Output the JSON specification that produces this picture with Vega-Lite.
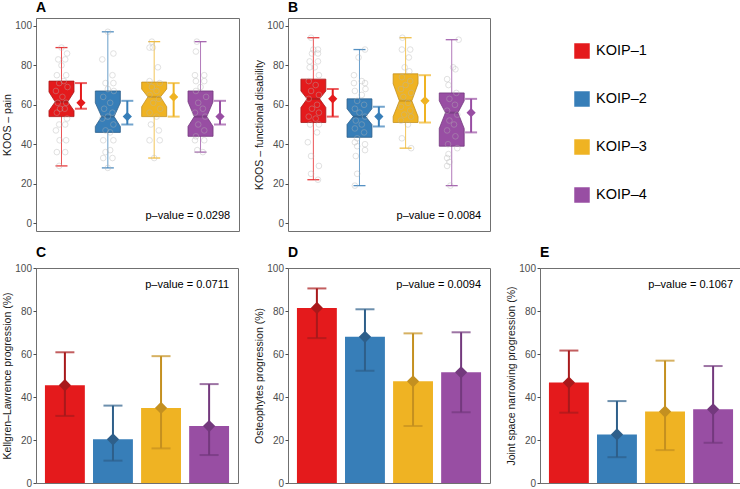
{
"$schema": "https://vega.github.io/schema/vega-lite/v6.json",
"background": "white",
"padding": {"left": 2, "top": 0, "right": 0, "bottom": 0},
"config": {
  "font": "Liberation Sans",
  "view": {"stroke": "#707070", "strokeWidth": 1},
  "title": {"anchor": "start", "frame": "group", "fontSize": 14, "fontWeight": "bold", "font": "Liberation Sans", "offset": 3, "color": "#000"},
  "axis": {"labelFont": "Liberation Sans", "labelFontSize": 10, "labelColor": "#4d4d4d", "titleFont": "Liberation Sans", "titleFontSize": 10.5, "titleFontWeight": "normal", "titleColor": "#1a1a1a", "tickColor": "#4d4d4d", "tickSize": 3, "domain": false, "grid": false, "labelPadding": 1.5, "titlePadding": 2}
},
"datasets": {
  "boxA": [
    {"g": 1, "grp": "KOIP–1", "q1": 54, "nlo": 57, "med": 61.5, "nhi": 66.5, "q3": 72, "lo": 29, "hi": 89, "mean": 61, "elo": 58, "ehi": 71},
    {"g": 2, "grp": "KOIP–2", "q1": 46, "nlo": 49, "med": 54, "nhi": 61, "q3": 67, "lo": 28, "hi": 97, "mean": 54, "elo": 50, "ehi": 62},
    {"g": 3, "grp": "KOIP–3", "q1": 54, "nlo": 59, "med": 64, "nhi": 68, "q3": 71.5, "lo": 33, "hi": 92, "mean": 64, "elo": 54, "ehi": 71},
    {"g": 4, "grp": "KOIP–4", "q1": 44, "nlo": 49, "med": 54, "nhi": 61.5, "q3": 67, "lo": 36, "hi": 92, "mean": 54, "elo": 50, "ehi": 62}
  ],
  "boxB": [
    {"g": 1, "grp": "KOIP–1", "q1": 51, "nlo": 58.6, "med": 63, "nhi": 67, "q3": 73, "lo": 22, "hi": 94, "mean": 63, "elo": 54, "ehi": 68},
    {"g": 2, "grp": "KOIP–2", "q1": 43.5, "nlo": 50, "med": 54, "nhi": 58, "q3": 63, "lo": 19, "hi": 88, "mean": 54, "elo": 49, "ehi": 59},
    {"g": 3, "grp": "KOIP–3", "q1": 51, "nlo": 54, "med": 62, "nhi": 70.7, "q3": 75.7, "lo": 38, "hi": 94, "mean": 62, "elo": 51, "ehi": 75},
    {"g": 4, "grp": "KOIP–4", "q1": 39, "nlo": 48, "med": 56, "nhi": 62, "q3": 66, "lo": 19, "hi": 93, "mean": 56, "elo": 46, "ehi": 63}
  ],
  "ptsA": [
    {"x": 1.0, "v": 89}, {"x": 1.12, "v": 86}, {"x": 0.93, "v": 83}, {"x": 1.08, "v": 83}, {"x": 1.0, "v": 80}, {"x": 0.9, "v": 75}, {"x": 1.1, "v": 75}, {"x": 1.05, "v": 72}, {"x": 0.95, "v": 71}, {"x": 1.13, "v": 69}, {"x": 0.88, "v": 67}, {"x": 1.02, "v": 64}, {"x": 0.92, "v": 61}, {"x": 1.1, "v": 61}, {"x": 0.97, "v": 58}, {"x": 1.07, "v": 58}, {"x": 0.9, "v": 56}, {"x": 1.12, "v": 53}, {"x": 0.95, "v": 50}, {"x": 1.08, "v": 50}, {"x": 0.88, "v": 47}, {"x": 1.1, "v": 42}, {"x": 0.96, "v": 42}, {"x": 0.9, "v": 36}, {"x": 1.08, "v": 36}, {"x": 0.95, "v": 29},
    {"x": 2.0, "v": 97}, {"x": 2.12, "v": 86}, {"x": 1.88, "v": 83}, {"x": 2.1, "v": 75}, {"x": 2.12, "v": 71}, {"x": 1.95, "v": 71}, {"x": 2.0, "v": 68}, {"x": 2.13, "v": 67}, {"x": 1.9, "v": 64}, {"x": 2.05, "v": 61}, {"x": 1.92, "v": 58}, {"x": 2.1, "v": 56}, {"x": 2.0, "v": 54}, {"x": 1.88, "v": 53}, {"x": 2.12, "v": 50}, {"x": 1.95, "v": 47}, {"x": 2.05, "v": 46}, {"x": 1.9, "v": 42}, {"x": 2.12, "v": 42}, {"x": 2.05, "v": 37}, {"x": 1.95, "v": 36}, {"x": 2.1, "v": 33}, {"x": 1.9, "v": 33}, {"x": 2.0, "v": 28},
    {"x": 2.95, "v": 92}, {"x": 2.9, "v": 89}, {"x": 2.97, "v": 89}, {"x": 3.08, "v": 79}, {"x": 2.9, "v": 72}, {"x": 3.12, "v": 71}, {"x": 2.95, "v": 69}, {"x": 3.05, "v": 67}, {"x": 2.9, "v": 65}, {"x": 3.1, "v": 63}, {"x": 2.98, "v": 61}, {"x": 3.13, "v": 58}, {"x": 2.9, "v": 56}, {"x": 3.05, "v": 54}, {"x": 2.93, "v": 50}, {"x": 3.1, "v": 47}, {"x": 2.9, "v": 42}, {"x": 3.12, "v": 42}, {"x": 3.0, "v": 33},
    {"x": 3.92, "v": 92}, {"x": 3.9, "v": 87}, {"x": 3.88, "v": 75}, {"x": 4.08, "v": 75}, {"x": 3.9, "v": 72}, {"x": 4.08, "v": 72}, {"x": 4.0, "v": 69}, {"x": 3.9, "v": 67}, {"x": 4.12, "v": 64}, {"x": 3.95, "v": 61}, {"x": 4.05, "v": 58}, {"x": 3.88, "v": 56}, {"x": 4.1, "v": 54}, {"x": 3.95, "v": 50}, {"x": 4.08, "v": 47}, {"x": 3.9, "v": 44}, {"x": 3.88, "v": 42}, {"x": 4.08, "v": 42}, {"x": 3.93, "v": 37}, {"x": 4.05, "v": 36}
  ],
  "ptsB": [
    {"x": 0.95, "v": 94}, {"x": 1.0, "v": 88}, {"x": 1.1, "v": 88}, {"x": 0.97, "v": 86}, {"x": 1.1, "v": 86}, {"x": 0.92, "v": 82}, {"x": 1.1, "v": 82}, {"x": 0.92, "v": 79}, {"x": 1.03, "v": 79}, {"x": 1.12, "v": 75}, {"x": 0.9, "v": 72}, {"x": 1.05, "v": 70}, {"x": 0.95, "v": 67}, {"x": 1.12, "v": 65}, {"x": 0.9, "v": 63}, {"x": 1.08, "v": 60}, {"x": 0.97, "v": 58}, {"x": 1.12, "v": 56}, {"x": 0.9, "v": 54}, {"x": 1.05, "v": 53}, {"x": 0.93, "v": 50}, {"x": 1.12, "v": 50}, {"x": 1.08, "v": 46}, {"x": 0.88, "v": 41}, {"x": 0.95, "v": 34}, {"x": 1.12, "v": 29}, {"x": 0.95, "v": 25}, {"x": 1.1, "v": 22},
    {"x": 2.12, "v": 88}, {"x": 1.98, "v": 84}, {"x": 1.88, "v": 75}, {"x": 2.05, "v": 72}, {"x": 1.88, "v": 71}, {"x": 2.12, "v": 71}, {"x": 2.13, "v": 68}, {"x": 1.9, "v": 67}, {"x": 2.05, "v": 65}, {"x": 1.95, "v": 62}, {"x": 2.1, "v": 60}, {"x": 1.9, "v": 58}, {"x": 2.0, "v": 56}, {"x": 2.12, "v": 54}, {"x": 1.92, "v": 52}, {"x": 2.05, "v": 50}, {"x": 1.9, "v": 48}, {"x": 2.1, "v": 46}, {"x": 1.95, "v": 43}, {"x": 1.9, "v": 41}, {"x": 2.12, "v": 40}, {"x": 1.95, "v": 39}, {"x": 2.12, "v": 37}, {"x": 1.92, "v": 34}, {"x": 1.95, "v": 25}, {"x": 1.9, "v": 19},
    {"x": 2.93, "v": 94}, {"x": 2.92, "v": 88}, {"x": 3.1, "v": 88}, {"x": 3.07, "v": 84}, {"x": 2.98, "v": 79}, {"x": 3.08, "v": 77}, {"x": 2.92, "v": 74}, {"x": 3.1, "v": 72}, {"x": 3.0, "v": 70}, {"x": 2.9, "v": 68}, {"x": 3.12, "v": 66}, {"x": 2.95, "v": 64}, {"x": 3.05, "v": 61}, {"x": 2.9, "v": 59}, {"x": 3.1, "v": 57}, {"x": 2.97, "v": 55}, {"x": 3.12, "v": 54}, {"x": 2.9, "v": 52}, {"x": 3.05, "v": 50}, {"x": 2.92, "v": 43}, {"x": 3.12, "v": 38},
    {"x": 4.15, "v": 93}, {"x": 4.03, "v": 79}, {"x": 4.08, "v": 78}, {"x": 3.9, "v": 73}, {"x": 3.93, "v": 70}, {"x": 4.1, "v": 66}, {"x": 3.95, "v": 63}, {"x": 4.07, "v": 60}, {"x": 3.9, "v": 57}, {"x": 4.12, "v": 55}, {"x": 3.95, "v": 52}, {"x": 4.05, "v": 50}, {"x": 3.9, "v": 47}, {"x": 4.08, "v": 44}, {"x": 3.92, "v": 40}, {"x": 4.12, "v": 38}, {"x": 3.93, "v": 35}, {"x": 3.9, "v": 33}, {"x": 3.95, "v": 31}, {"x": 3.9, "v": 29}, {"x": 3.97, "v": 19}
  ],
  "bars": [
    {"panel": "C", "grp": "KOIP–1", "pct": 45.5, "lo": 31.2, "hi": 60.8},
    {"panel": "C", "grp": "KOIP–2", "pct": 20.3, "lo": 10.4, "hi": 36},
    {"panel": "C", "grp": "KOIP–3", "pct": 34.9, "lo": 16.1, "hi": 59},
    {"panel": "C", "grp": "KOIP–4", "pct": 26.5, "lo": 13, "hi": 46},
    {"panel": "D", "grp": "KOIP–1", "pct": 81.4, "lo": 67.4, "hi": 90.5},
    {"panel": "D", "grp": "KOIP–2", "pct": 68, "lo": 52.2, "hi": 80.8},
    {"panel": "D", "grp": "KOIP–3", "pct": 47.3, "lo": 26.5, "hi": 69.6},
    {"panel": "D", "grp": "KOIP–4", "pct": 51.5, "lo": 32.9, "hi": 70.1},
    {"panel": "E", "grp": "KOIP–1", "pct": 46.7, "lo": 32.7, "hi": 61.6},
    {"panel": "E", "grp": "KOIP–2", "pct": 22.6, "lo": 12, "hi": 38.1},
    {"panel": "E", "grp": "KOIP–3", "pct": 33.2, "lo": 15.3, "hi": 56.9},
    {"panel": "E", "grp": "KOIP–4", "pct": 34.3, "lo": 18.7, "hi": 54.4}
  ],
  "legend": [
    {"g": 1, "grp": "KOIP–1"}, {"g": 2, "grp": "KOIP–2"}, {"g": 3, "grp": "KOIP–3"}, {"g": 4, "grp": "KOIP–4"}
  ]
},
"spacing": 13,
"vconcat": [
  {"spacing": 14, "hconcat": [
    {"width": 203, "height": 213, "title": {"text": "A"},
     "resolve": {"scale": {"color": "independent", "fill": "independent", "stroke": "independent"}},
     "layer": [
      {"data": {"name": "boxA"}, "mark": {"type": "rule", "strokeWidth": 1, "opacity": 0.75},
       "encoding": {"x": {"field": "g", "type": "quantitative", "scale": {"domain": [0.45, 4.83], "nice": false, "zero": false}, "axis": null},
         "y": {"field": "lo", "type": "quantitative", "scale": {"domain": [-4, 104], "nice": false, "zero": false}, "axis": {"title": "KOOS – pain", "values": [0, 20, 40, 60, 80, 100]}},
         "y2": {"field": "hi"},
         "color": {"field": "grp", "type": "nominal", "scale": {"domain": ["KOIP–1", "KOIP–2", "KOIP–3", "KOIP–4"], "range": ["#E41A1C", "#377EB8", "#EFB323", "#984EA3"]}, "legend": null}}},
      {"data": {"name": "boxA"}, "mark": {"type": "tick", "orient": "horizontal", "size": 12, "thickness": 1.3, "opacity": 0.85},
       "encoding": {"x": {"field": "g", "type": "quantitative"}, "y": {"field": "lo", "type": "quantitative"},
         "color": {"field": "grp", "type": "nominal", "scale": {"domain": ["KOIP–1", "KOIP–2", "KOIP–3", "KOIP–4"], "range": ["#E41A1C", "#377EB8", "#EFB323", "#984EA3"]}, "legend": null}}},
      {"data": {"name": "boxA"}, "mark": {"type": "tick", "orient": "horizontal", "size": 12, "thickness": 1.3, "opacity": 0.85},
       "encoding": {"x": {"field": "g", "type": "quantitative"}, "y": {"field": "hi", "type": "quantitative"},
         "color": {"field": "grp", "type": "nominal", "scale": {"domain": ["KOIP–1", "KOIP–2", "KOIP–3", "KOIP–4"], "range": ["#E41A1C", "#377EB8", "#EFB323", "#984EA3"]}, "legend": null}}},
      {"data": {"name": "boxA"},
       "transform": [{"fold": ["q1", "nlo", "med", "nhi", "q3"], "as": ["stat", "yv"]},
         {"calculate": "datum.stat === 'med' ? 0.135 : 0.27", "as": "hw"},
         {"calculate": "datum.g - datum.hw", "as": "xl"}, {"calculate": "datum.g + datum.hw", "as": "xr"}],
       "mark": {"type": "area", "orient": "horizontal", "strokeWidth": 0.8, "fillOpacity": 1},
       "encoding": {"y": {"field": "yv", "type": "quantitative"}, "x": {"field": "xl", "type": "quantitative"}, "x2": {"field": "xr"},
         "fill": {"field": "grp", "type": "nominal", "scale": {"domain": ["KOIP–1", "KOIP–2", "KOIP–3", "KOIP–4"], "range": ["#E41A1C", "#377EB8", "#EFB323", "#984EA3"]}, "legend": null},
         "stroke": {"field": "grp", "type": "nominal", "scale": {"domain": ["KOIP–1", "KOIP–2", "KOIP–3", "KOIP–4"], "range": ["#A8191B", "#2E5F8A", "#C49020", "#73397D"]}, "legend": null}}},
      {"data": {"name": "boxA"}, "mark": {"type": "tick", "orient": "horizontal", "size": 12.5, "thickness": 2},
       "encoding": {"x": {"field": "g", "type": "quantitative"}, "y": {"field": "med", "type": "quantitative"},
         "color": {"field": "grp", "type": "nominal", "scale": {"domain": ["KOIP–1", "KOIP–2", "KOIP–3", "KOIP–4"], "range": ["#A8191B", "#2E5F8A", "#C49020", "#73397D"]}, "legend": null}}},
      {"data": {"name": "ptsA"}, "mark": {"type": "point", "shape": "circle", "filled": false, "size": 32, "strokeWidth": 0.8, "color": "#b5b5b5", "opacity": 0.5},
       "encoding": {"x": {"field": "x", "type": "quantitative"}, "y": {"field": "v", "type": "quantitative"}}},
      {"data": {"name": "boxA"}, "transform": [{"calculate": "datum.g + 0.42", "as": "xm"}],
       "mark": {"type": "rule", "strokeWidth": 2},
       "encoding": {"x": {"field": "xm", "type": "quantitative"}, "y": {"field": "elo", "type": "quantitative"}, "y2": {"field": "ehi"},
         "color": {"field": "grp", "type": "nominal", "scale": {"domain": ["KOIP–1", "KOIP–2", "KOIP–3", "KOIP–4"], "range": ["#E41A1C", "#377EB8", "#EFB323", "#984EA3"]}, "legend": null}}},
      {"data": {"name": "boxA"}, "transform": [{"calculate": "datum.g + 0.42", "as": "xm"}],
       "mark": {"type": "tick", "orient": "horizontal", "size": 12, "thickness": 2},
       "encoding": {"x": {"field": "xm", "type": "quantitative"}, "y": {"field": "elo", "type": "quantitative"},
         "color": {"field": "grp", "type": "nominal", "scale": {"domain": ["KOIP–1", "KOIP–2", "KOIP–3", "KOIP–4"], "range": ["#E41A1C", "#377EB8", "#EFB323", "#984EA3"]}, "legend": null}}},
      {"data": {"name": "boxA"}, "transform": [{"calculate": "datum.g + 0.42", "as": "xm"}],
       "mark": {"type": "tick", "orient": "horizontal", "size": 12, "thickness": 2},
       "encoding": {"x": {"field": "xm", "type": "quantitative"}, "y": {"field": "ehi", "type": "quantitative"},
         "color": {"field": "grp", "type": "nominal", "scale": {"domain": ["KOIP–1", "KOIP–2", "KOIP–3", "KOIP–4"], "range": ["#E41A1C", "#377EB8", "#EFB323", "#984EA3"]}, "legend": null}}},
      {"data": {"name": "boxA"}, "transform": [{"calculate": "datum.g + 0.42", "as": "xm"}],
       "mark": {"type": "point", "shape": "diamond", "filled": true, "size": 85, "opacity": 1},
       "encoding": {"x": {"field": "xm", "type": "quantitative"}, "y": {"field": "mean", "type": "quantitative"},
         "color": {"field": "grp", "type": "nominal", "scale": {"domain": ["KOIP–1", "KOIP–2", "KOIP–3", "KOIP–4"], "range": ["#E41A1C", "#377EB8", "#EFB323", "#984EA3"]}, "legend": null}}},
      {"data": {"values": [{"label": "p–value = 0.0298"}]}, "mark": {"type": "text", "align": "right", "baseline": "middle", "fontSize": 11, "color": "#000"},
       "encoding": {"x": {"datum": 4.64, "type": "quantitative"}, "y": {"datum": 3.5, "type": "quantitative"}, "text": {"field": "label"}}}
     ]},
    {"width": 202, "height": 213, "title": {"text": "B"},
     "resolve": {"scale": {"color": "independent", "fill": "independent", "stroke": "independent"}},
     "layer": [
      {"data": {"name": "boxB"}, "mark": {"type": "rule", "strokeWidth": 1, "opacity": 0.75},
       "encoding": {"x": {"field": "g", "type": "quantitative", "scale": {"domain": [0.45, 4.83], "nice": false, "zero": false}, "axis": null},
         "y": {"field": "lo", "type": "quantitative", "scale": {"domain": [-4, 104], "nice": false, "zero": false}, "axis": {"title": "KOOS – functional disability", "values": [0, 20, 40, 60, 80, 100]}},
         "y2": {"field": "hi"},
         "color": {"field": "grp", "type": "nominal", "scale": {"domain": ["KOIP–1", "KOIP–2", "KOIP–3", "KOIP–4"], "range": ["#E41A1C", "#377EB8", "#EFB323", "#984EA3"]}, "legend": null}}},
      {"data": {"name": "boxB"}, "mark": {"type": "tick", "orient": "horizontal", "size": 12, "thickness": 1.3, "opacity": 0.85},
       "encoding": {"x": {"field": "g", "type": "quantitative"}, "y": {"field": "lo", "type": "quantitative"},
         "color": {"field": "grp", "type": "nominal", "scale": {"domain": ["KOIP–1", "KOIP–2", "KOIP–3", "KOIP–4"], "range": ["#E41A1C", "#377EB8", "#EFB323", "#984EA3"]}, "legend": null}}},
      {"data": {"name": "boxB"}, "mark": {"type": "tick", "orient": "horizontal", "size": 12, "thickness": 1.3, "opacity": 0.85},
       "encoding": {"x": {"field": "g", "type": "quantitative"}, "y": {"field": "hi", "type": "quantitative"},
         "color": {"field": "grp", "type": "nominal", "scale": {"domain": ["KOIP–1", "KOIP–2", "KOIP–3", "KOIP–4"], "range": ["#E41A1C", "#377EB8", "#EFB323", "#984EA3"]}, "legend": null}}},
      {"data": {"name": "boxB"},
       "transform": [{"fold": ["q1", "nlo", "med", "nhi", "q3"], "as": ["stat", "yv"]},
         {"calculate": "datum.stat === 'med' ? 0.135 : 0.27", "as": "hw"},
         {"calculate": "datum.g - datum.hw", "as": "xl"}, {"calculate": "datum.g + datum.hw", "as": "xr"}],
       "mark": {"type": "area", "orient": "horizontal", "strokeWidth": 0.8, "fillOpacity": 1},
       "encoding": {"y": {"field": "yv", "type": "quantitative"}, "x": {"field": "xl", "type": "quantitative"}, "x2": {"field": "xr"},
         "fill": {"field": "grp", "type": "nominal", "scale": {"domain": ["KOIP–1", "KOIP–2", "KOIP–3", "KOIP–4"], "range": ["#E41A1C", "#377EB8", "#EFB323", "#984EA3"]}, "legend": null},
         "stroke": {"field": "grp", "type": "nominal", "scale": {"domain": ["KOIP–1", "KOIP–2", "KOIP–3", "KOIP–4"], "range": ["#A8191B", "#2E5F8A", "#C49020", "#73397D"]}, "legend": null}}},
      {"data": {"name": "boxB"}, "mark": {"type": "tick", "orient": "horizontal", "size": 12.5, "thickness": 2},
       "encoding": {"x": {"field": "g", "type": "quantitative"}, "y": {"field": "med", "type": "quantitative"},
         "color": {"field": "grp", "type": "nominal", "scale": {"domain": ["KOIP–1", "KOIP–2", "KOIP–3", "KOIP–4"], "range": ["#A8191B", "#2E5F8A", "#C49020", "#73397D"]}, "legend": null}}},
      {"data": {"name": "ptsB"}, "mark": {"type": "point", "shape": "circle", "filled": false, "size": 32, "strokeWidth": 0.8, "color": "#b5b5b5", "opacity": 0.5},
       "encoding": {"x": {"field": "x", "type": "quantitative"}, "y": {"field": "v", "type": "quantitative"}}},
      {"data": {"name": "boxB"}, "transform": [{"calculate": "datum.g + 0.42", "as": "xm"}],
       "mark": {"type": "rule", "strokeWidth": 2},
       "encoding": {"x": {"field": "xm", "type": "quantitative"}, "y": {"field": "elo", "type": "quantitative"}, "y2": {"field": "ehi"},
         "color": {"field": "grp", "type": "nominal", "scale": {"domain": ["KOIP–1", "KOIP–2", "KOIP–3", "KOIP–4"], "range": ["#E41A1C", "#377EB8", "#EFB323", "#984EA3"]}, "legend": null}}},
      {"data": {"name": "boxB"}, "transform": [{"calculate": "datum.g + 0.42", "as": "xm"}],
       "mark": {"type": "tick", "orient": "horizontal", "size": 12, "thickness": 2},
       "encoding": {"x": {"field": "xm", "type": "quantitative"}, "y": {"field": "elo", "type": "quantitative"},
         "color": {"field": "grp", "type": "nominal", "scale": {"domain": ["KOIP–1", "KOIP–2", "KOIP–3", "KOIP–4"], "range": ["#E41A1C", "#377EB8", "#EFB323", "#984EA3"]}, "legend": null}}},
      {"data": {"name": "boxB"}, "transform": [{"calculate": "datum.g + 0.42", "as": "xm"}],
       "mark": {"type": "tick", "orient": "horizontal", "size": 12, "thickness": 2},
       "encoding": {"x": {"field": "xm", "type": "quantitative"}, "y": {"field": "ehi", "type": "quantitative"},
         "color": {"field": "grp", "type": "nominal", "scale": {"domain": ["KOIP–1", "KOIP–2", "KOIP–3", "KOIP–4"], "range": ["#E41A1C", "#377EB8", "#EFB323", "#984EA3"]}, "legend": null}}},
      {"data": {"name": "boxB"}, "transform": [{"calculate": "datum.g + 0.42", "as": "xm"}],
       "mark": {"type": "point", "shape": "diamond", "filled": true, "size": 85, "opacity": 1},
       "encoding": {"x": {"field": "xm", "type": "quantitative"}, "y": {"field": "mean", "type": "quantitative"},
         "color": {"field": "grp", "type": "nominal", "scale": {"domain": ["KOIP–1", "KOIP–2", "KOIP–3", "KOIP–4"], "range": ["#E41A1C", "#377EB8", "#EFB323", "#984EA3"]}, "legend": null}}},
      {"data": {"values": [{"label": "p–value = 0.0084"}]}, "mark": {"type": "text", "align": "right", "baseline": "middle", "fontSize": 11, "color": "#000"},
       "encoding": {"x": {"datum": 4.64, "type": "quantitative"}, "y": {"datum": 3.5, "type": "quantitative"}, "text": {"field": "label"}}}
     ]},
    {"width": 200, "height": 213, "view": {"stroke": null}, "data": {"name": "legend"},
     "layer": [
      {"mark": {"type": "point", "shape": "square", "filled": true, "size": 240, "opacity": 1},
       "encoding": {"x": {"datum": 77, "type": "quantitative", "scale": {"domain": [0, 200], "nice": false}, "axis": null},
         "y": {"field": "g", "type": "quantitative", "scale": {"domain": [0.3125, 4.75], "reverse": true, "nice": false, "zero": false}, "axis": null},
         "color": {"field": "grp", "type": "nominal", "scale": {"domain": ["KOIP–1", "KOIP–2", "KOIP–3", "KOIP–4"], "range": ["#E41A1C", "#377EB8", "#EFB323", "#984EA3"]}, "legend": null}}},
      {"mark": {"type": "text", "align": "left", "baseline": "middle", "fontSize": 14.5, "color": "#000"},
       "encoding": {"x": {"datum": 91, "type": "quantitative"}, "y": {"field": "g", "type": "quantitative"}, "text": {"field": "grp"}}}
     ]}
  ]},
  {"spacing": 15, "hconcat": [
    {"width": 202, "height": 215, "title": {"text": "C"}, "data": {"name": "bars"}, "transform": [{"filter": "datum.panel === 'C'"}],
     "resolve": {"scale": {"color": "independent"}},
     "layer": [
      {"mark": {"type": "bar"},
       "encoding": {"x": {"field": "grp", "type": "nominal", "sort": null, "scale": {"paddingInner": 0.17, "paddingOuter": 0.186}, "axis": null},
         "y": {"field": "pct", "type": "quantitative", "scale": {"domain": [0, 100], "nice": false}, "axis": {"title": "Kellgren–Lawrence progression (%)", "values": [0, 20, 40, 60, 80, 100]}},
         "color": {"field": "grp", "type": "nominal", "scale": {"domain": ["KOIP–1", "KOIP–2", "KOIP–3", "KOIP–4"], "range": ["#E41A1C", "#377EB8", "#EFB323", "#984EA3"]}, "legend": null}}},
      {"mark": {"type": "rule", "strokeWidth": 2},
       "encoding": {"x": {"field": "grp", "type": "nominal", "sort": null}, "y": {"field": "lo", "type": "quantitative"}, "y2": {"field": "hi"},
         "color": {"field": "grp", "type": "nominal", "scale": {"domain": ["KOIP–1", "KOIP–2", "KOIP–3", "KOIP–4"], "range": ["#A8191B", "#2E5F8A", "#C49020", "#73397D"]}, "legend": null}}},
      {"mark": {"type": "tick", "orient": "horizontal", "size": 19, "thickness": 2},
       "encoding": {"x": {"field": "grp", "type": "nominal", "sort": null}, "y": {"field": "lo", "type": "quantitative"},
         "color": {"field": "grp", "type": "nominal", "scale": {"domain": ["KOIP–1", "KOIP–2", "KOIP–3", "KOIP–4"], "range": ["#A8191B", "#2E5F8A", "#C49020", "#73397D"]}, "legend": null}}},
      {"mark": {"type": "tick", "orient": "horizontal", "size": 19, "thickness": 2},
       "encoding": {"x": {"field": "grp", "type": "nominal", "sort": null}, "y": {"field": "hi", "type": "quantitative"},
         "color": {"field": "grp", "type": "nominal", "scale": {"domain": ["KOIP–1", "KOIP–2", "KOIP–3", "KOIP–4"], "range": ["#A8191B", "#2E5F8A", "#C49020", "#73397D"]}, "legend": null}}},
      {"mark": {"type": "point", "shape": "diamond", "filled": true, "size": 150, "opacity": 1},
       "encoding": {"x": {"field": "grp", "type": "nominal", "sort": null}, "y": {"field": "pct", "type": "quantitative"},
         "color": {"field": "grp", "type": "nominal", "scale": {"domain": ["KOIP–1", "KOIP–2", "KOIP–3", "KOIP–4"], "range": ["#A8191B", "#2E5F8A", "#C49020", "#73397D"]}, "legend": null}}},
      {"data": {"values": [{"label": "p–value = 0.0711"}]}, "mark": {"type": "text", "align": "right", "baseline": "middle", "fontSize": 11, "color": "#000"},
       "encoding": {"x": {"datum": "KOIP–4", "type": "nominal", "bandPosition": 1}, "y": {"datum": 92, "type": "quantitative"}, "text": {"field": "label"}}}
     ]},
    {"width": 202, "height": 215, "title": {"text": "D"}, "data": {"name": "bars"}, "transform": [{"filter": "datum.panel === 'D'"}],
     "resolve": {"scale": {"color": "independent"}},
     "layer": [
      {"mark": {"type": "bar"},
       "encoding": {"x": {"field": "grp", "type": "nominal", "sort": null, "scale": {"paddingInner": 0.17, "paddingOuter": 0.186}, "axis": null},
         "y": {"field": "pct", "type": "quantitative", "scale": {"domain": [0, 100], "nice": false}, "axis": {"title": "Osteophytes progression (%)", "values": [0, 20, 40, 60, 80, 100]}},
         "color": {"field": "grp", "type": "nominal", "scale": {"domain": ["KOIP–1", "KOIP–2", "KOIP–3", "KOIP–4"], "range": ["#E41A1C", "#377EB8", "#EFB323", "#984EA3"]}, "legend": null}}},
      {"mark": {"type": "rule", "strokeWidth": 2},
       "encoding": {"x": {"field": "grp", "type": "nominal", "sort": null}, "y": {"field": "lo", "type": "quantitative"}, "y2": {"field": "hi"},
         "color": {"field": "grp", "type": "nominal", "scale": {"domain": ["KOIP–1", "KOIP–2", "KOIP–3", "KOIP–4"], "range": ["#A8191B", "#2E5F8A", "#C49020", "#73397D"]}, "legend": null}}},
      {"mark": {"type": "tick", "orient": "horizontal", "size": 19, "thickness": 2},
       "encoding": {"x": {"field": "grp", "type": "nominal", "sort": null}, "y": {"field": "lo", "type": "quantitative"},
         "color": {"field": "grp", "type": "nominal", "scale": {"domain": ["KOIP–1", "KOIP–2", "KOIP–3", "KOIP–4"], "range": ["#A8191B", "#2E5F8A", "#C49020", "#73397D"]}, "legend": null}}},
      {"mark": {"type": "tick", "orient": "horizontal", "size": 19, "thickness": 2},
       "encoding": {"x": {"field": "grp", "type": "nominal", "sort": null}, "y": {"field": "hi", "type": "quantitative"},
         "color": {"field": "grp", "type": "nominal", "scale": {"domain": ["KOIP–1", "KOIP–2", "KOIP–3", "KOIP–4"], "range": ["#A8191B", "#2E5F8A", "#C49020", "#73397D"]}, "legend": null}}},
      {"mark": {"type": "point", "shape": "diamond", "filled": true, "size": 150, "opacity": 1},
       "encoding": {"x": {"field": "grp", "type": "nominal", "sort": null}, "y": {"field": "pct", "type": "quantitative"},
         "color": {"field": "grp", "type": "nominal", "scale": {"domain": ["KOIP–1", "KOIP–2", "KOIP–3", "KOIP–4"], "range": ["#A8191B", "#2E5F8A", "#C49020", "#73397D"]}, "legend": null}}},
      {"data": {"values": [{"label": "p–value = 0.0094"}]}, "mark": {"type": "text", "align": "right", "baseline": "middle", "fontSize": 11, "color": "#000"},
       "encoding": {"x": {"datum": "KOIP–4", "type": "nominal", "bandPosition": 1}, "y": {"datum": 92, "type": "quantitative"}, "text": {"field": "label"}}}
     ]},
    {"width": 202, "height": 215, "title": {"text": "E"}, "data": {"name": "bars"}, "transform": [{"filter": "datum.panel === 'E'"}],
     "resolve": {"scale": {"color": "independent"}},
     "layer": [
      {"mark": {"type": "bar"},
       "encoding": {"x": {"field": "grp", "type": "nominal", "sort": null, "scale": {"paddingInner": 0.17, "paddingOuter": 0.186}, "axis": null},
         "y": {"field": "pct", "type": "quantitative", "scale": {"domain": [0, 100], "nice": false}, "axis": {"title": "Joint space narrowing progression (%)", "values": [0, 20, 40, 60, 80, 100]}},
         "color": {"field": "grp", "type": "nominal", "scale": {"domain": ["KOIP–1", "KOIP–2", "KOIP–3", "KOIP–4"], "range": ["#E41A1C", "#377EB8", "#EFB323", "#984EA3"]}, "legend": null}}},
      {"mark": {"type": "rule", "strokeWidth": 2},
       "encoding": {"x": {"field": "grp", "type": "nominal", "sort": null}, "y": {"field": "lo", "type": "quantitative"}, "y2": {"field": "hi"},
         "color": {"field": "grp", "type": "nominal", "scale": {"domain": ["KOIP–1", "KOIP–2", "KOIP–3", "KOIP–4"], "range": ["#A8191B", "#2E5F8A", "#C49020", "#73397D"]}, "legend": null}}},
      {"mark": {"type": "tick", "orient": "horizontal", "size": 19, "thickness": 2},
       "encoding": {"x": {"field": "grp", "type": "nominal", "sort": null}, "y": {"field": "lo", "type": "quantitative"},
         "color": {"field": "grp", "type": "nominal", "scale": {"domain": ["KOIP–1", "KOIP–2", "KOIP–3", "KOIP–4"], "range": ["#A8191B", "#2E5F8A", "#C49020", "#73397D"]}, "legend": null}}},
      {"mark": {"type": "tick", "orient": "horizontal", "size": 19, "thickness": 2},
       "encoding": {"x": {"field": "grp", "type": "nominal", "sort": null}, "y": {"field": "hi", "type": "quantitative"},
         "color": {"field": "grp", "type": "nominal", "scale": {"domain": ["KOIP–1", "KOIP–2", "KOIP–3", "KOIP–4"], "range": ["#A8191B", "#2E5F8A", "#C49020", "#73397D"]}, "legend": null}}},
      {"mark": {"type": "point", "shape": "diamond", "filled": true, "size": 150, "opacity": 1},
       "encoding": {"x": {"field": "grp", "type": "nominal", "sort": null}, "y": {"field": "pct", "type": "quantitative"},
         "color": {"field": "grp", "type": "nominal", "scale": {"domain": ["KOIP–1", "KOIP–2", "KOIP–3", "KOIP–4"], "range": ["#A8191B", "#2E5F8A", "#C49020", "#73397D"]}, "legend": null}}},
      {"data": {"values": [{"label": "p–value = 0.1067"}]}, "mark": {"type": "text", "align": "right", "baseline": "middle", "fontSize": 11, "color": "#000"},
       "encoding": {"x": {"datum": "KOIP–4", "type": "nominal", "bandPosition": 1}, "y": {"datum": 92, "type": "quantitative"}, "text": {"field": "label"}}}
     ]}
  ]}
]
}
